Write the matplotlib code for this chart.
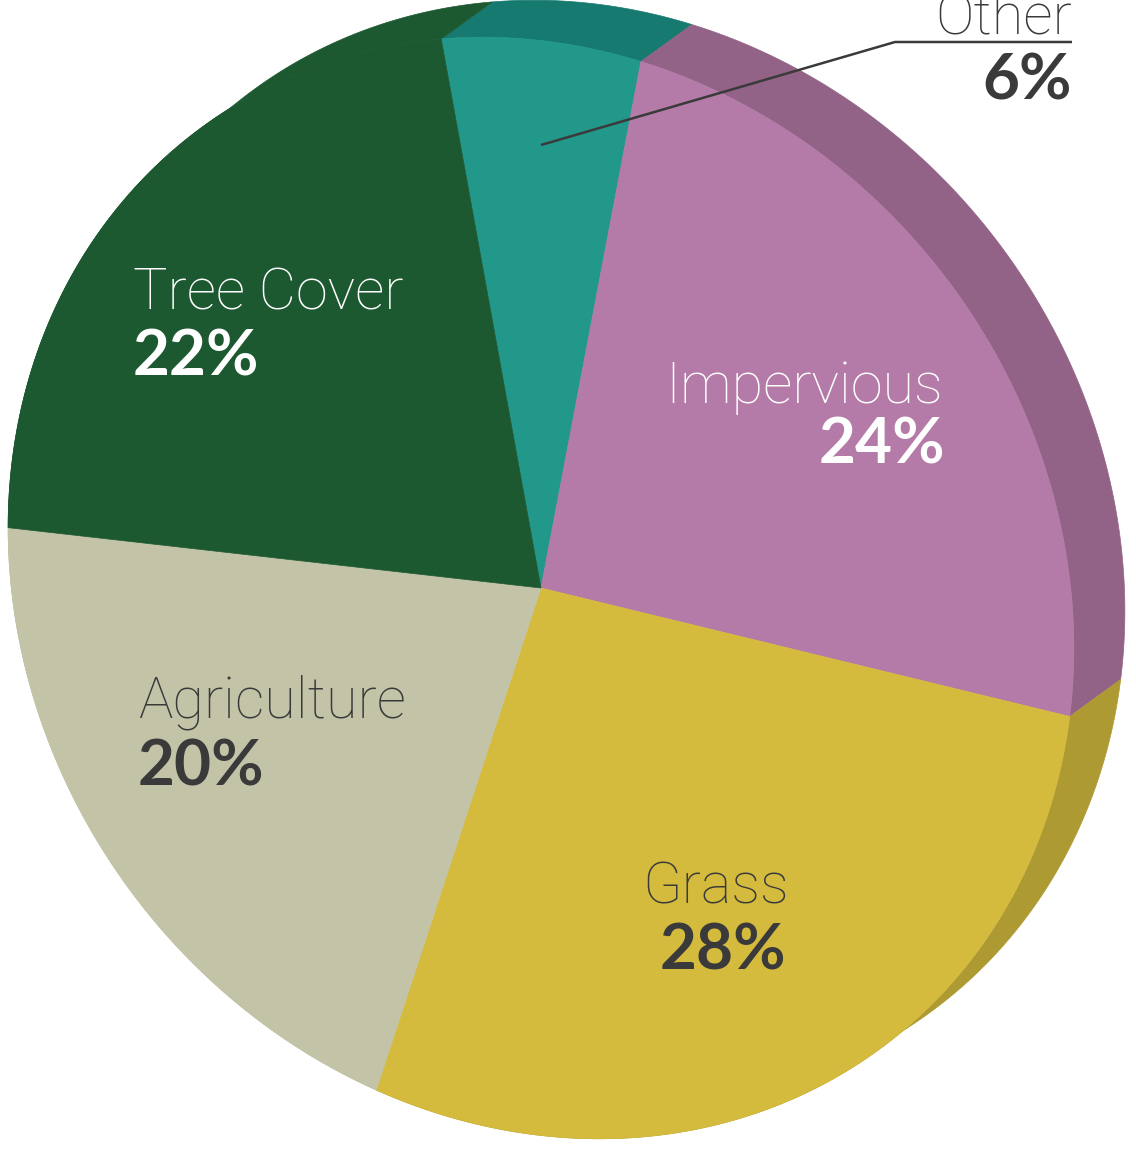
import numpy as np
import matplotlib
matplotlib.use("Agg")
from matplotlib import pyplot as plt
from matplotlib.patches import Polygon

plt.rcParams['font.family'] = ['Lato', 'DejaVu Sans']

# data
labels = ["Other", "Impervious", "Grass", "Agriculture", "Tree Cover"]
values = [6, 24, 28, 20, 22]

top_colors = ["#21988a", "#b47aa8", "#d4bb3e", "#c3c3a8", "#1c5830"]
side_colors = ["#167a70", "#926386", "#ae9a33", "#c3c3a8", "#1c5830"]
text_colors = ["#3a3a3a", "white", "#3a3a3a", "#3a3a3a", "white"]

# label anchors in pixels (x name, baseline name, x pct, baseline pct, align)
label_pos = [(1072, 33, 1072, 100, "right"),
             (943, 403, 945, 464, "right"),
             (642, 903, 660, 970, "left"),
             (138, 718, 138, 785, "left"),
             (133, 310, 133, 376, "left")]

# geometry of the tilted pie (pixels, y down)
cx, cy = 541, 588
a_ax, b_ax = 572, 510
tilt = np.radians(36.6)
depth = np.array([51, -37])
start = 29.0

u = np.array([-np.sin(tilt), -np.cos(tilt)])
v = np.array([np.cos(tilt), -np.sin(tilt)])


def rim(t0, t1, n=200):
    t = np.radians(np.linspace(t0, t1, n))
    return np.array([cx, cy]) + np.outer(a_ax*np.cos(t), u) + np.outer(b_ax*np.sin(t), v)


fig = plt.figure(figsize=(11.36, 11.53), dpi=100)
ax = fig.add_axes([0, 0, 1, 1])
ax.set_xlim(0, 1136)
ax.set_ylim(1153, 0)
ax.axis("off")

bounds = start + 360*np.concatenate([[0], np.cumsum(values)])/100.0

# side of the pie first
for i in range(len(values)):
    arc = rim(bounds[i], bounds[i+1])
    side = np.vstack([arc, (arc + depth)[::-1]])
    ax.add_patch(Polygon(side, closed=True, fc=side_colors[i], ec=side_colors[i], lw=0.5))

# top face
for i in range(len(values)):
    arc = rim(bounds[i], bounds[i+1])
    pts = np.vstack([[cx, cy], arc])
    ax.add_patch(Polygon(pts, closed=True, fc=top_colors[i], ec=top_colors[i], lw=0.5))

# leader line for Other
ax.plot([541, 895, 1072], [145, 42, 42], color="#3a3a3a", lw=1.8, solid_capstyle="butt")

for i in range(len(values)):
    x1, y1, x2, y2, ha = label_pos[i]
    ax.text(x1, y1, labels[i], color=text_colors[i], fontsize=41.5, fontweight="light",
            family=["Roboto", "DejaVu Sans"], ha=ha, va="baseline")
    ax.text(x2, y2, "%d%%" % values[i], color=text_colors[i], fontsize=46, fontweight="bold",
            ha=ha, va="baseline")

fig.savefig("out.png", dpi=100)
